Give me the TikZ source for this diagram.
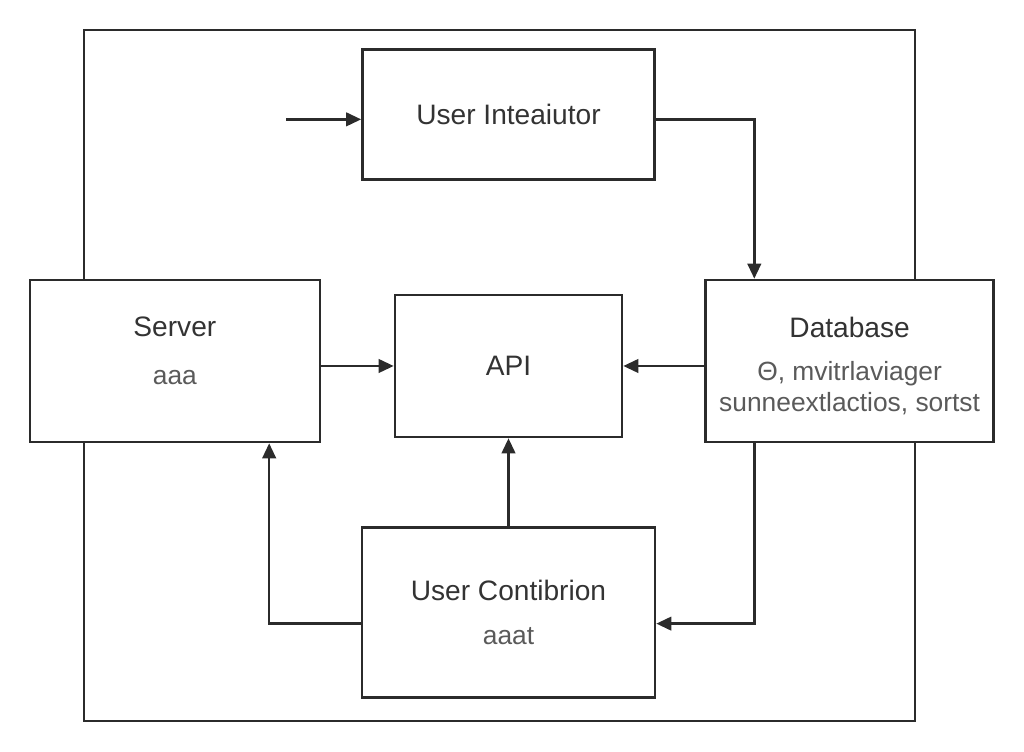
\documentclass[tikz,border=0pt]{standalone}
\usepackage{fontspec}
\setmainfont{Liberation Sans}
\usepackage{tikz}
\usetikzlibrary{positioning,arrows.meta}
\usepackage{xcolor}
\definecolor{linegray}{HTML}{2B2B2B}
\definecolor{textgray}{HTML}{333333}
\definecolor{subgray}{HTML}{5A5A5A}
\newcommand{\subtxt}[1]{{\color{subgray}\fontsize{15}{18}\selectfont #1}}

\begin{document}
\begin{tikzpicture}[
    block/.style={draw=linegray, fill=white, line width=1.5pt, align=center, text=textgray, font=\fontsize{16}{19}\selectfont},
    arrow/.style={-{Triangle[length=3mm, width=2.7mm]}, line width=1.4pt, draw=linegray},
    frame/.style={draw=linegray, line width=1.4pt}
]
\useasboundingbox (0,0) rectangle (20.48,15.04);

% Outer frame
\draw[frame] (1.68,0.62) rectangle (18.3,14.44);

% Middle row
\node[block, minimum width=4.54cm, minimum height=2.84cm] (api) at (10.17,7.72) {API};
\node[block, left=1.45 of api, yshift=0.1cm, minimum width=5.8cm, minimum height=3.24cm, text depth=0.42cm] (server) {Server\\[8pt]\subtxt{aaa}};
\node[block, right=1.62 of api, yshift=0.1cm, minimum width=5.76cm, minimum height=3.24cm] (database) {\rule{0pt}{0.62cm}Database\\[5pt]\subtxt{Θ, mvitrlaviager}\\[-1pt]\subtxt{sunneextlactios, sortst}};

% Top and bottom
\node[block, above=2.26 of api, minimum width=5.84cm, minimum height=2.6cm] (integ) {User Inteaiutor};
\node[block, below=1.76 of api, minimum width=5.86cm, minimum height=3.4cm] (contrib) {User Contibrion\\[6pt]\subtxt{aaat}};

\coordinate[left=1.5 of integ, yshift=-0.1cm] (input);
\draw[arrow] (input) -- (input -| integ.west);
\draw[arrow] ([yshift=-0.1cm]integ.east) -| ([xshift=1cm]database.north west);

\draw[arrow] (server.east |- api.west) -- (api.west);
\draw[arrow] (database.west |- api.east) -- (api.east);
\draw[arrow] (contrib) -- (api);

% Feedback paths
\draw[arrow] ([xshift=1cm]database.south west) |- ([yshift=-0.22cm]contrib.east);
\draw[arrow] ([yshift=-0.22cm]contrib.west) -| ([xshift=-1.04cm]server.south east);
\end{tikzpicture}
\end{document}
